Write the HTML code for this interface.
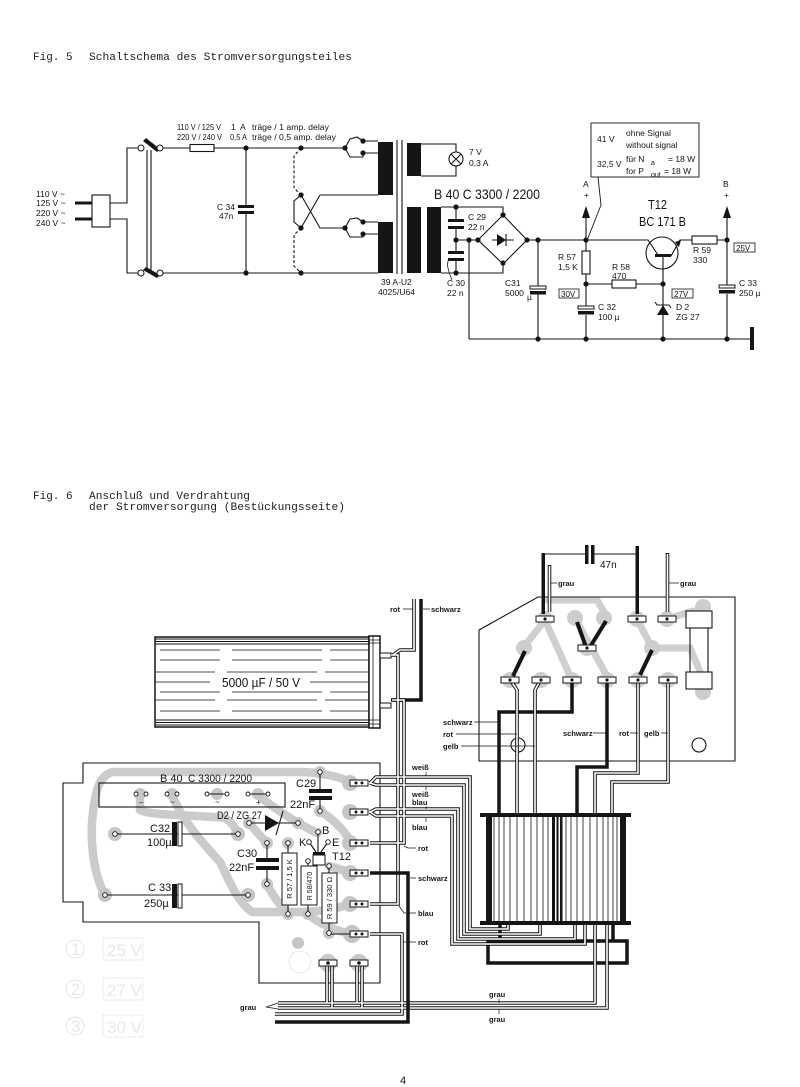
<!DOCTYPE html>
<html><head><meta charset="utf-8"><style>
html,body{margin:0;padding:0;background:#fff;}
svg{display:block;}
text{font-family:"Liberation Sans",sans-serif;fill:#151515;}
.m{font-family:"Liberation Mono",monospace;font-size:11px;fill:#222;}
.s{font-size:8.5px;}
.l{font-size:7.5px;font-weight:bold;}
.b{font-size:11px;}
.fa{fill:#e8e8e8;font-size:17px;}
</style></head><body>
<svg width="800" height="1087" viewBox="0 0 800 1087" xmlns="http://www.w3.org/2000/svg">
<rect width="800" height="1087" fill="#fff"/>

<!-- ================= FIG 5 ================= -->
<text class="m" x="33" y="60">Fig. 5</text>
<text class="m" x="89" y="60" textLength="263" lengthAdjust="spacingAndGlyphs">Schaltschema des Stromversorgungsteiles</text>

<g stroke="#151515" stroke-width="1.1" fill="none">
  <rect x="92" y="195" width="18" height="32"/>
  <path d="M110,203H127V148H138 M110,219H127V273H138"/>
  <path d="M147,150V271 M151,150V271"/>
  <path d="M163,148H190 M214,148H345"/>
  <rect x="190" y="144.5" width="24" height="7"/>
  <path d="M163,273H378"/>
  <path d="M246,148V206 M246,214V273"/>
  <path d="M301,148L294,156V188L301,195 M301,228L294,235V266L301,273" stroke-dasharray="3,2"/>
  <path d="M301,195L294,201V222L301,228"/>
  <path d="M301,195L320,228H345 M320,195L301,228 M320,195H378"/>
  <path d="M345,148L350,139L357,137L363,141 M345,148L350,157L363,157L363,153 M363,141H378 M363,153H378"/>
  <path d="M345,228L350,219L357,218L363,222 M345,228L350,237L363,237L363,234 M363,222H378 M363,234H378"/>
  <path d="M397,140V274 M402,140V274"/>
  <path d="M421,144H456V152 M456,166V176H421"/>
  <circle cx="456" cy="159" r="7"/>
  <path d="M451,154L461,164 M451,164L461,154"/>
  <path d="M441,207H503V215 M441,273H503V263"/>
  <path d="M456,207V221 M456,229V252 M456,260V273 M456,240H478"/>
  <path d="M503,215L527,240L503,264L478,240Z"/>
  <path d="M492,240H514 M506,234V246"/>
  <path d="M469,240V339 M469,339H752"/>
  <path d="M527,240H648L658,255"/>
  <path d="M538,240V286 M538,294V339"/>
  <path d="M586,240V216"/>
  <path d="M586,240V251 M586,274V307 M586,315V339"/>
  <rect x="582" y="251" width="8" height="23" fill="#fff"/>
  <path d="M586,284H612 M636,284H663"/>
  <rect x="612" y="280" width="24" height="8" fill="#fff"/>
  <circle cx="662" cy="253" r="16"/>
  <path d="M663,257V339 M671,256L680,240H692"/>
  <rect x="692" y="236" width="25" height="8" fill="#fff"/>
  <path d="M717,240H727V216 M727,240V286 M727,294V339"/>
  <path d="M655,302L657,305H669L671,308"/>
  <rect x="591" y="123" width="108" height="54" stroke-width="0.9"/>
  <path d="M598,177L601,205L588,238" stroke-width="0.9"/>
  <rect x="559" y="289" width="20" height="9" stroke-width="0.8"/>
  <rect x="672" y="289" width="21" height="9" stroke-width="0.8"/>
  <rect x="734" y="243" width="21" height="9" stroke-width="0.8"/>
  <path d="M450,258C446,262 447,268 452,280" stroke-width="0.8"/>
</g>
<g fill="#151515">
  <rect x="75" y="201.5" width="17" height="3"/>
  <rect x="75" y="217.5" width="17" height="3"/>
  <path d="M143,141L146,138L160,149L157,152Z"/>
  <path d="M143,270L146,267L160,275L157,278Z"/>
  <rect x="238" y="205" width="16" height="3"/>
  <rect x="238" y="211" width="16" height="3"/>
  <rect x="378" y="142" width="15" height="53"/>
  <rect x="378" y="222" width="15" height="51"/>
  <rect x="407" y="143" width="14" height="33"/>
  <rect x="407" y="207" width="14" height="66"/>
  <rect x="427" y="207" width="14" height="66"/>
  <rect x="448" y="219" width="16" height="3"/>
  <rect x="448" y="226" width="16" height="3"/>
  <rect x="448" y="251" width="16" height="3"/>
  <rect x="448" y="258" width="16" height="3"/>
  <path d="M497,234V246L506,240Z"/>
  <rect x="530" y="291" width="16" height="3.5"/>
  <rect x="578" y="311" width="16" height="3.5"/>
  <rect x="719" y="290" width="16" height="3.5"/>
  <path d="M586,206L582,218H590Z"/>
  <path d="M727,206L723,218H731Z"/>
  <rect x="655" y="254" width="16" height="3"/>
  <path d="M681,240L675,242L679,247Z"/>
  <path d="M657,315H669L663,305Z"/>
  <rect x="750" y="327" width="4" height="23"/>
</g>
<g fill="#fff" stroke="#151515" stroke-width="1">
  <circle cx="141" cy="148" r="3"/><circle cx="160" cy="148" r="3"/>
  <circle cx="141" cy="273" r="3"/><circle cx="160" cy="273" r="3"/>
  <rect x="530" y="286" width="16" height="3"/>
  <rect x="578" y="306" width="16" height="3"/>
  <rect x="719" y="285" width="16" height="3"/>
</g>
<g fill="#151515">
  <circle cx="246" cy="148" r="2.6"/><circle cx="246" cy="273" r="2.6"/>
  <circle cx="301" cy="148" r="2.6"/><circle cx="301" cy="195" r="2.6"/>
  <circle cx="301" cy="228" r="2.6"/><circle cx="301" cy="273" r="2.6"/>
  <circle cx="345" cy="148" r="2.6"/><circle cx="363" cy="141" r="2.6"/><circle cx="363" cy="153" r="2.6"/>
  <circle cx="345" cy="228" r="2.6"/><circle cx="363" cy="222" r="2.6"/><circle cx="363" cy="234" r="2.6"/>
  <circle cx="456" cy="207" r="2.6"/><circle cx="456" cy="240" r="2.6"/><circle cx="456" cy="273" r="2.6"/>
  <circle cx="469" cy="240" r="2.6"/><circle cx="478" cy="240" r="2.6"/>
  <circle cx="503" cy="215" r="2.6"/><circle cx="503" cy="263" r="2.6"/><circle cx="527" cy="240" r="2.6"/>
  <circle cx="538" cy="240" r="2.6"/><circle cx="586" cy="240" r="2.6"/><circle cx="586" cy="284" r="2.6"/>
  <circle cx="663" cy="284" r="2.6"/><circle cx="727" cy="240" r="2.6"/>
  <circle cx="538" cy="339" r="2.6"/><circle cx="586" cy="339" r="2.6"/>
  <circle cx="663" cy="339" r="2.6"/><circle cx="727" cy="339" r="2.6"/>
</g>
<g class="s">
  <text x="177" y="130" textLength="44" lengthAdjust="spacingAndGlyphs">110 V / 125 V</text>
  <text x="231" y="130">1</text><text x="240" y="130">A</text>
  <text x="252" y="130" textLength="77" lengthAdjust="spacingAndGlyphs">träge / 1 amp. delay</text>
  <text x="177" y="140" textLength="45" lengthAdjust="spacingAndGlyphs">220 V / 240 V</text>
  <text x="230" y="140" textLength="17" lengthAdjust="spacingAndGlyphs">0,5 A</text>
  <text x="252" y="140" textLength="84" lengthAdjust="spacingAndGlyphs">träge / 0,5 amp. delay</text>
  <text x="36" y="197">110 V ~</text><text x="36" y="206">125 V ~</text>
  <text x="36" y="216">220 V ~</text><text x="36" y="226">240 V ~</text>
  <text x="217" y="210">C 34</text><text x="219" y="219">47n</text>
  <text x="381" y="285">39 A-U2</text>
  <text x="378" y="295" textLength="37" lengthAdjust="spacingAndGlyphs">4025/U64</text>
  <text x="469" y="155">7 V</text><text x="469" y="166">0,3 A</text>
  <text x="468" y="220">C 29</text><text x="468" y="230">22 n</text>
  <text x="447" y="286">C 30</text><text x="447" y="296">22 n</text>
  <text x="505" y="286">C31</text><text x="505" y="296">5000</text><text x="527" y="300">µ</text>
  <text x="583" y="187">A</text><text x="584" y="198">+</text>
  <text x="723" y="187">B</text><text x="724" y="198">+</text>
  <text x="597" y="142">41 V</text>
  <text x="626" y="136">ohne Signal</text><text x="626" y="148">without signal</text>
  <text x="597" y="167">32,5 V</text>
  <text x="626" y="162">für  N</text><text x="651" y="165" font-size="7">a</text><text x="668" y="162">= 18 W</text>
  <text x="626" y="174">for  P</text><text x="651" y="177" font-size="7">out</text><text x="664" y="174">= 18 W</text>
  <text x="558" y="260">R 57</text><text x="558" y="270">1,5 K</text>
  <text x="612" y="270">R 58</text><text x="612" y="279">470</text>
  <text x="561" y="297" font-size="8">30V</text>
  <text x="598" y="310">C 32</text><text x="598" y="320">100 µ</text>
  <text x="674" y="297" font-size="8">27V</text>
  <text x="676" y="310">D 2</text><text x="676" y="320">ZG 27</text>
  <text x="693" y="253">R 59</text><text x="693" y="263">330</text>
  <text x="736" y="251" font-size="8">25V</text>
  <text x="739" y="286">C 33</text><text x="739" y="296">250 µ</text>
</g>
<text x="434" y="199" font-size="14" textLength="106" lengthAdjust="spacingAndGlyphs">B 40 C 3300 / 2200</text>
<text x="648" y="209" font-size="13" textLength="19" lengthAdjust="spacingAndGlyphs">T12</text>
<text x="639" y="226" font-size="13" textLength="47" lengthAdjust="spacingAndGlyphs">BC 171 B</text>

<!-- ================= FIG 6 ================= -->
<text class="m" x="33" y="499">Fig. 6</text>
<text class="m" x="89" y="499" textLength="161" lengthAdjust="spacingAndGlyphs">Anschluß und Verdrahtung</text>
<text class="m" x="89" y="510" textLength="256" lengthAdjust="spacingAndGlyphs">der Stromversorgung (Bestückungsseite)</text>

<!-- faint legend -->
<g stroke="#e8e8e8" fill="none" stroke-width="1.2">
  <circle cx="75" cy="949" r="9"/><circle cx="75" cy="989" r="9"/><circle cx="75" cy="1026" r="9"/>
  <rect x="103" y="938" width="40" height="22" stroke-dasharray="2,1"/>
  <rect x="103" y="978" width="40" height="22" stroke-dasharray="2,1"/>
  <rect x="103" y="1015" width="40" height="22" stroke-dasharray="2,1"/>
</g>
<text class="fa" x="71" y="955" font-size="13">1</text>
<text class="fa" x="71" y="995" font-size="13">2</text>
<text class="fa" x="71" y="1032" font-size="13">3</text>
<text class="fa" x="107" y="956">25 V</text>
<text class="fa" x="107" y="996">27 V</text>
<text class="fa" x="107" y="1033">30 V</text>

<!-- capacitor cylinder -->
<g stroke="#151515" fill="none">
  <rect x="155" y="637" width="214" height="90" stroke-width="1.5" fill="#fff"/>
  <path d="M155,639H369 M155,641.5H369 M155,644H369 M155,720H369 M155,722.5H369 M155,725H369" stroke-width="1"/>
  <path d="M160,650H369 M160,660H369 M155,672H369 M160,692H369 M155,700H369 M160,711H369" stroke-width="0.7" stroke-dasharray="60,12,90,8"/>
  <path d="M155,682H210 M310,682H369" stroke-width="0.7"/>
  <rect x="369" y="636" width="11" height="92" stroke-width="1.5" fill="#fff"/>
  <path d="M369,640H380 M369,643H380 M369,720H380 M369,724H380 M373,636V728" stroke-width="0.8"/>
  <rect x="380" y="653" width="11" height="5" stroke-width="1" fill="#fff"/>
  <rect x="380" y="703" width="11" height="5" stroke-width="1" fill="#fff"/>
</g>
<text x="222" y="687" font-size="12.5" textLength="78" lengthAdjust="spacingAndGlyphs">5000 µF / 50 V</text>

<!-- switch board -->
<g stroke="#cfcfcf" stroke-width="7" fill="none" stroke-linecap="round">
  <path d="M547,600H597L607,617"/>
  <path d="M523,648L545,620"/>
  <path d="M548,627L572,680"/>
  <path d="M575,618L608,678"/>
  <path d="M637,619L652,648H690L705,683"/>
  <path d="M667,619L693,611"/>
</g>
<g fill="#cdcdcd">
  <circle cx="545" cy="619" r="8"/><circle cx="637" cy="619" r="8"/><circle cx="667" cy="619" r="8"/>
  <circle cx="587" cy="648" r="8"/><circle cx="524" cy="648" r="8"/><circle cx="575" cy="618" r="8"/>
  <circle cx="604" cy="618" r="8"/><circle cx="652" cy="648" r="8"/>
  <circle cx="510" cy="680" r="8"/><circle cx="541" cy="680" r="8"/><circle cx="572" cy="680" r="8"/>
  <circle cx="607" cy="680" r="8"/><circle cx="638" cy="680" r="8"/><circle cx="668" cy="680" r="8"/>
  <circle cx="703" cy="607" r="8"/><circle cx="703" cy="692" r="8"/>
</g>
<g stroke="#151515" fill="none" stroke-width="1.1">
  <path d="M538,597H735V761H479V630Z"/>
  <circle cx="518" cy="745" r="7"/><circle cx="699" cy="745" r="7"/>
  <path d="M543,554H585 M593,554H637"/>
  <rect x="686" y="611" width="26" height="17" fill="#fff"/>
  <rect x="686" y="672" width="26" height="17" fill="#fff"/>
  <path d="M690,628V672 M708,628V672"/>
</g>
<g fill="#151515">
  <rect x="585" y="545" width="3.5" height="19"/><rect x="591" y="545" width="3.5" height="19"/>
  <rect x="541.5" y="553" width="3.5" height="61"/>
  <rect x="635.5" y="546" width="3.5" height="68"/>
</g>
<text x="600" y="568" font-size="10">47n</text>
<g fill="none" stroke-linecap="butt">
  <path d="M549.5,565V612 M667.5,553V612" stroke="#151515" stroke-width="3.6"/>
  <path d="M549.5,566V612 M667.5,554V612" stroke="#fff" stroke-width="1.6"/>
</g>
<g stroke="#151515" stroke-width="4" stroke-linecap="butt">
  <path d="M513,676L525,651 M586,647L577,622 M590,647L606,621 M640,675L652,650"/>
</g>
<g fill="none" stroke="#151515" stroke-width="3.5">
  <path d="M572,681V712H499V815"/>
  <path d="M607,681V767H577V815"/>
</g>
<g fill="none">
  <g stroke="#151515" stroke-width="3.6">
    <path d="M511,681L517,690V815"/><path d="M540,681L535,690V815"/>
    <path d="M638,681V773H595V815"/><path d="M668,681V782H612V815"/>
  </g>
  <g stroke="#fff" stroke-width="1.6">
    <path d="M511,681L517,690V815"/><path d="M540,681L535,690V815"/>
    <path d="M638,681V773H595V815"/><path d="M668,681V782H612V815"/>
  </g>
</g>
<g fill="#fff" stroke="#151515" stroke-width="1">
  <rect x="536" y="616" width="18" height="6"/><rect x="628" y="616" width="18" height="6"/><rect x="658" y="616" width="18" height="6"/>
  <rect x="578" y="645" width="18" height="6"/>
  <rect x="501" y="677" width="18" height="6"/><rect x="532" y="677" width="18" height="6"/><rect x="563" y="677" width="18" height="6"/>
  <rect x="598" y="677" width="18" height="6"/><rect x="629" y="677" width="18" height="6"/><rect x="659" y="677" width="18" height="6"/>
</g>
<g fill="#151515">
  <circle cx="545" cy="619" r="1.6"/><circle cx="637" cy="619" r="1.6"/><circle cx="667" cy="619" r="1.6"/>
  <circle cx="587" cy="648" r="1.6"/>
  <circle cx="510" cy="680" r="1.6"/><circle cx="541" cy="680" r="1.6"/><circle cx="572" cy="680" r="1.6"/>
  <circle cx="607" cy="680" r="1.6"/><circle cx="638" cy="680" r="1.6"/><circle cx="668" cy="680" r="1.6"/>
</g>
<g class="l">
  <text x="558" y="586">grau</text><text x="680" y="586">grau</text>
  <text x="443" y="725">schwarz</text><text x="443" y="737">rot</text><text x="443" y="749">gelb</text>
  <text x="563" y="736">schwarz</text><text x="619" y="736">rot</text><text x="644" y="736">gelb</text>
</g>
<g stroke="#151515" stroke-width="0.7">
  <path d="M551,583H557 M669,583H679"/>
  <path d="M474,722H499 M456,734H517 M461,746H535 M593,733H607 M630,733H638 M661,733H668"/>
</g>

<!-- transformer -->
<g stroke="#151515" fill="none">
  <path d="M494,817V921 M499,817V921 M504,817V921 M510,817V921 M517,817V921 M524,817V921 M531,817V921 M537,817V921 M543,817V921 M548,817V921 M566,817V921 M571,817V921 M577,817V921 M583,817V921 M590,817V921 M597,817V921 M603,817V921 M608,817V921 M613,817V921 M617,817V921" stroke-width="0.8"/>
</g>
<g fill="#151515">
  <rect x="480" y="813" width="151" height="4"/>
  <rect x="480" y="921" width="151" height="4"/>
  <rect x="486" y="817" width="6" height="104"/>
  <rect x="620" y="817" width="6" height="104"/>
  <rect x="552" y="817" width="3" height="104"/><rect x="556.5" y="817" width="2" height="104"/><rect x="560" y="817" width="2.5" height="104"/>
</g>
<g fill="none" stroke="#151515" stroke-width="3.5">
  <path d="M500,925V941 M613,925V941"/>
  <rect x="488" y="941" width="139" height="22"/>
</g>

<g fill="none" stroke="#151515" stroke-width="3.5">
  <path d="M421,599V700H391"/>
</g>

<!-- left PCB -->
<g stroke="#cbcbcb" stroke-width="8.5" fill="none" stroke-linecap="round" stroke-linejoin="round">
  <path d="M105,895C92,872 90,835 93,812C96,788 100,776 112,772H300C315,772 340,776 352,783"/>
  <path d="M140,795V810C150,816 200,815 225,818C233,823 236,829 238,834"/>
  <path d="M172,795C182,820 200,840 220,862C228,878 236,900 252,912H300C320,912 338,908 352,904"/>
  <path d="M258,795C270,805 285,815 298,823"/>
  <path d="M249,823C255,830 262,838 267,843"/>
  <path d="M320,811C335,820 345,832 352,843"/>
  <path d="M267,884C272,895 280,905 288,914"/>
  <path d="M308,914C320,925 340,932 352,934"/>
  <path d="M329,866L352,873"/>
  <path d="M298,823C312,830 318,835 318,832"/>
</g>
<g fill="#c6c6c6">
  <circle cx="115" cy="834" r="7"/><circle cx="238" cy="834" r="7"/>
  <circle cx="105" cy="895" r="7"/><circle cx="248" cy="895" r="7"/>
  <circle cx="320" cy="772" r="6"/><circle cx="320" cy="811" r="6"/>
  <circle cx="249" cy="823" r="6"/><circle cx="298" cy="823" r="6"/>
  <circle cx="267" cy="843" r="6"/><circle cx="267" cy="884" r="6"/>
  <circle cx="288" cy="843" r="6"/><circle cx="288" cy="914" r="6"/>
  <circle cx="308" cy="914" r="6"/><circle cx="329" cy="933" r="6"/>
  <circle cx="350" cy="783" r="8"/><circle cx="350" cy="812" r="8"/><circle cx="350" cy="843" r="8"/>
  <circle cx="350" cy="873" r="8"/><circle cx="350" cy="904" r="8"/><circle cx="352" cy="934" r="9"/>
  <circle cx="328" cy="963" r="9"/><circle cx="359" cy="963" r="9"/>
  <circle cx="298" cy="943" r="6"/>
  <circle cx="140" cy="794" r="6"/><circle cx="172" cy="794" r="6"/><circle cx="217" cy="794" r="6"/><circle cx="258" cy="794" r="6"/>
</g>
<circle cx="300" cy="962" r="11" fill="none" stroke="#e8e8e8" stroke-width="1"/>
<g stroke="#151515" fill="none" stroke-width="1.1">
  <path d="M83,763H380V983H259V922H83V902H63V783H83Z"/>
  <rect x="99" y="783" width="186" height="24"/>
  <path d="M115,834H238 M105,895H248 M320,772V789 M320,800V811 M249,823H298 M267,843V858 M267,870V884"/>
  <path d="M288,843V853 M288,905V914 M308,861V866 M308,905V914 M329,866V873 M329,923V933"/>
  <path d="M318,832V852 M309,842L316,852 M328,842L321,852"/>
  <path d="M328,934L352,934"/>
  <path d="M276,835L283,811"/>
  <path d="M207,794H227 M248,794H268"/>
</g>
<g fill="#fff" stroke="#151515" stroke-width="1">
  <rect x="282" y="853" width="15" height="52"/>
  <rect x="301" y="866" width="16" height="39"/>
  <rect x="322" y="873" width="15" height="50"/>
  <rect x="178" y="822" width="4" height="24"/>
  <rect x="178" y="884" width="4" height="24"/>
  <rect x="313" y="855" width="12" height="10"/>
</g>
<g fill="#151515">
  <rect x="309" y="789" width="23" height="4"/><rect x="309" y="796" width="23" height="4"/>
  <rect x="256" y="858" width="23" height="4"/><rect x="256" y="866" width="23" height="4"/>
  <rect x="172" y="822" width="5" height="24"/>
  <rect x="172" y="884" width="5" height="24"/>
  <path d="M265,815V831L279,823Z"/>
  <rect x="313" y="852" width="12" height="3"/>
</g>
<g fill="#fff" stroke="#151515" stroke-width="0.9">
  <circle cx="115" cy="834" r="2.3"/><circle cx="238" cy="834" r="2.3"/>
  <circle cx="105" cy="895" r="2.3"/><circle cx="248" cy="895" r="2.3"/>
  <circle cx="320" cy="772" r="2.3"/><circle cx="320" cy="811" r="2.3"/>
  <circle cx="249" cy="823" r="2.3"/><circle cx="298" cy="823" r="2.3"/>
  <circle cx="267" cy="843" r="2.3"/><circle cx="267" cy="884" r="2.3"/>
  <circle cx="288" cy="843" r="2.3"/><circle cx="288" cy="914" r="2.3"/>
  <circle cx="308" cy="861" r="2.3"/><circle cx="308" cy="914" r="2.3"/>
  <circle cx="329" cy="866" r="2.3"/><circle cx="329" cy="933" r="2.3"/>
  <circle cx="318" cy="832" r="2.3"/><circle cx="309" cy="842" r="2.3"/><circle cx="328" cy="842" r="2.3"/>
  <circle cx="136" cy="794" r="2"/><circle cx="146" cy="794" r="2"/>
  <circle cx="167" cy="794" r="2"/><circle cx="177" cy="794" r="2"/>
  <circle cx="207" cy="794" r="2"/><circle cx="227" cy="794" r="2"/>
  <circle cx="248" cy="794" r="2"/><circle cx="268" cy="794" r="2"/>
</g>
<g class="b">
  <text x="160" y="782">B 40</text>
  <text x="188" y="782" textLength="64" lengthAdjust="spacingAndGlyphs">C 3300 / 2200</text>
  <text x="296" y="787">C29</text><text x="290" y="808">22nF</text>
  <text x="217" y="819" textLength="45" lengthAdjust="spacingAndGlyphs">D2 / ZG 27</text>
  <text x="150" y="832">C32</text><text x="147" y="846">100µ</text>
  <text x="237" y="857">C30</text><text x="229" y="871">22nF</text>
  <text x="322" y="834">B</text><text x="299" y="846">K</text><text x="332" y="846">E</text>
  <text x="332" y="860">T12</text>
  <text x="148" y="891">C 33</text><text x="144" y="907">250µ</text>
</g>
<g font-size="8">
  <text x="139" y="805">–</text><text x="170" y="805">~</text><text x="215" y="805">~</text><text x="256" y="805">+</text>
</g>
<text transform="translate(292,879) rotate(-90)" font-size="7.5" text-anchor="middle">R 57 / 1,5 K</text>
<text transform="translate(312,886) rotate(-90)" font-size="7" text-anchor="middle">R 58/470</text>
<text transform="translate(332,898) rotate(-90)" font-size="7.5" text-anchor="middle">R 59 / 330 Ω</text>

<!-- wire bundle (double lines) -->
<g fill="none" stroke-linejoin="miter">
  <g stroke="#151515" stroke-width="3.6">
    <path d="M370,783L376,777H470V929H508V925"/>
    <path d="M370,783L376,785H464V934H540V925"/>
    <path d="M370,812L376,809H458V939H575V925"/>
    <path d="M370,812L376,816H452V944H585V925"/>
    <path d="M370,843H404V700H392"/>
    <path d="M391,655H398V904H370"/>
    <path d="M370,934H402V1014H275"/>
    <path d="M278,1003H595V925"/>
    <path d="M278,1008H607V925"/>
    <path d="M327,966V1003 M332,966V1008 M357,966V1003 M362,966V1008"/>
    <path d="M393,655L400,650H414V599"/>
  </g>
  <g stroke="#fff" stroke-width="1.6">
    <path d="M370,783L376,777H470V929H508V925"/>
    <path d="M370,783L376,785H464V934H540V925"/>
    <path d="M370,812L376,809H458V939H575V925"/>
    <path d="M370,812L376,816H452V944H585V925"/>
    <path d="M370,843H404V700H392"/>
    <path d="M391,655H398V904H370"/>
    <path d="M370,934H402V1014H275"/>
    <path d="M278,1003H595V925"/>
    <path d="M278,1008H607V925"/>
    <path d="M327,966V1003 M332,966V1008 M357,966V1003 M362,966V1008"/>
    <path d="M393,655L400,650H414V599"/>
  </g>
</g>
<g fill="none" stroke="#151515" stroke-width="3.5">
  <path d="M370,873H408V1022H275"/>
</g>
<g fill="#fff" stroke="#151515" stroke-width="1">
  <rect x="350" y="780" width="18" height="6"/><rect x="350" y="809" width="18" height="6"/>
  <rect x="350" y="840" width="18" height="6"/><rect x="350" y="870" width="18" height="6"/>
  <rect x="350" y="901" width="18" height="6"/><rect x="350" y="931" width="18" height="6"/>
  <rect x="319" y="960" width="18" height="6"/><rect x="350" y="960" width="18" height="6"/>
</g>
<g fill="#151515">
  <circle cx="356" cy="783" r="1.5"/><circle cx="362" cy="783" r="1.5"/>
  <circle cx="356" cy="812" r="1.5"/><circle cx="362" cy="812" r="1.5"/>
  <circle cx="356" cy="843" r="1.5"/><circle cx="362" cy="843" r="1.5"/>
  <circle cx="356" cy="873" r="1.5"/><circle cx="362" cy="873" r="1.5"/>
  <circle cx="356" cy="904" r="1.5"/><circle cx="362" cy="904" r="1.5"/>
  <circle cx="356" cy="934" r="1.5"/><circle cx="362" cy="934" r="1.5"/>
  <circle cx="328" cy="963" r="1.8"/><circle cx="359" cy="963" r="1.8"/>
</g>
<g class="l">
  <text x="390" y="612">rot</text><text x="431" y="612">schwarz</text>
  <text x="412" y="770">weiß</text><text x="412" y="797">weiß</text>
  <text x="412" y="805">blau</text><text x="412" y="830">blau</text>
  <text x="418" y="851">rot</text><text x="418" y="881">schwarz</text>
  <text x="418" y="916">blau</text><text x="418" y="945">rot</text>
  <text x="240" y="1010">grau</text>
  <text x="489" y="997">grau</text><text x="489" y="1022">grau</text>
</g>
<g stroke="#151515" stroke-width="0.7" fill="none">
  <path d="M403,609H413 M423,609H430"/>
  <path d="M426,772V776 M426,786V790 M426,806V809 M426,818V822"/>
  <path d="M404,846L408,848H416 M410,878H416 M399,906L404,913H416 M403,942H416"/>
  <path d="M278,1003L266,1007L278,1009"/>
  <path d="M499,999V1003 M499,1009V1014"/>
</g>

<text x="400" y="1084" font-size="11">4</text>
</svg>
</body></html>
